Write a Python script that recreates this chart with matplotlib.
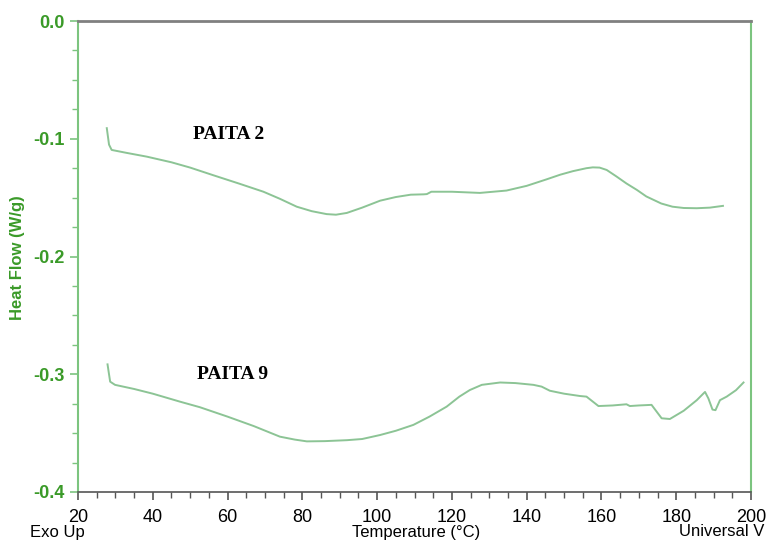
import matplotlib
matplotlib.use("Agg")
import matplotlib.pyplot as plt
from matplotlib.ticker import MultipleLocator

# Data (Temperature °C, Heat Flow W/g)
paita2_T = [27.7, 28.0, 28.3, 29.0, 33.0, 38.4, 45.0, 50.0, 56.2, 63.0, 69.6, 74.0, 78.5, 82.5,
            86.5, 89.0, 91.9, 96.0, 100.8, 105.0, 109.0, 112.5, 113.3, 114.5, 120.0, 127.5,
            134.6, 140.0, 145.3, 149.0, 152.4, 156.0, 157.7, 159.5, 161.4, 164.0, 166.7,
            169.5, 172.0, 176.0, 179.0, 182.0, 185.5, 189.0, 192.5]
paita2_V = [-0.091, -0.098, -0.105, -0.1095, -0.112, -0.1152, -0.120, -0.1245, -0.131, -0.138,
            -0.145, -0.151, -0.1577, -0.1615, -0.164, -0.1645, -0.163, -0.1585, -0.1526,
            -0.1495, -0.1475, -0.1472, -0.147, -0.145, -0.145, -0.146, -0.144, -0.140,
            -0.1345, -0.1305, -0.1275, -0.1250, -0.1243, -0.1245, -0.1265, -0.132, -0.138,
            -0.1435, -0.149, -0.155, -0.1577, -0.1588, -0.159, -0.1585, -0.157]

paita9_T = [27.9, 28.2, 28.6, 29.9, 35.0, 40.0, 47.3, 52.6, 60.0, 67.0, 74.0, 78.0, 81.2, 86.0,
            91.9, 96.0, 100.8, 105.0, 109.7, 114.0, 118.6, 122.0, 124.8, 128.0, 132.9, 137.0,
            141.8, 144.0, 146.2, 150.0, 154.3, 156.0, 159.2, 163.0, 166.7, 167.6, 170.0,
            173.4, 176.1, 178.3, 182.0, 185.5, 187.7, 188.6, 189.7, 190.5, 191.7, 193.5,
            196.0, 198.0]
paita9_V = [-0.2916, -0.298, -0.3063, -0.309, -0.3125, -0.3165, -0.3233, -0.328, -0.336,
            -0.344, -0.353, -0.3555, -0.357, -0.3568, -0.356, -0.355, -0.3516, -0.348,
            -0.343, -0.336, -0.3275, -0.319, -0.3134, -0.309, -0.307, -0.3075, -0.309,
            -0.3105, -0.314, -0.3165, -0.3185, -0.319, -0.327, -0.3265, -0.3255, -0.327,
            -0.3265, -0.326, -0.3374, -0.338, -0.331, -0.322, -0.315, -0.3205, -0.330,
            -0.3305, -0.322, -0.319, -0.3135, -0.307]

labels = ["PAITA 2", "PAITA 9"]
label_pos = [(50.8, -0.0968), (51.9, -0.3006)]

x_ticks = [20, 40, 60, 80, 100, 120, 140, 160, 180, 200]
y_ticks = [0.0, -0.1, -0.2, -0.3, -0.4]

curve_color = "#8cc495"
green = "#7cc47f"
tick_green = "#3a9a28"
narrow = ["Liberation Sans Narrow", "Liberation Sans"]

fig = plt.figure(figsize=(7.66, 5.44), dpi=100)
ax = fig.add_axes([78/766, 1-492/544, (751-78)/766, (492-21)/544])

ax.plot(paita2_T, paita2_V, color=curve_color, lw=1.4)
ax.plot(paita9_T, paita9_V, color=curve_color, lw=1.4)

for lab, (tx, ty) in zip(labels, label_pos):
    ax.text(tx, ty, lab, fontsize=14, fontweight="bold", family="Liberation Serif",
            ha="left", va="center", color="black")

ax.set_xlim(20, 200)
ax.set_ylim(-0.4, 0.0)
ax.set_xticks(x_ticks)
ax.set_yticks(y_ticks)
ax.set_yticklabels(["0.0", "-0.1", "-0.2", "-0.3", "-0.4"])
ax.xaxis.set_minor_locator(MultipleLocator(5))
ax.yaxis.set_minor_locator(MultipleLocator(0.025))

ax.spines["left"].set_color(green)
ax.spines["left"].set_linewidth(1.5)
ax.spines["right"].set_color(green)
ax.spines["right"].set_linewidth(1.5)
ax.spines["top"].set_color("#808080")
ax.spines["top"].set_linewidth(2)
ax.spines["bottom"].set_color("#555555")
ax.spines["bottom"].set_linewidth(1.2)

ax.tick_params(axis="y", which="both", colors=green, labelcolor=tick_green,
               direction="out", labelsize=13)
ax.tick_params(axis="y", which="major", length=6, width=1.2)
ax.tick_params(axis="y", which="minor", length=4, width=1.0)
ax.tick_params(axis="x", which="both", colors="#555555", labelcolor="black",
               direction="out", labelsize=13)
ax.tick_params(axis="x", which="major", length=6, width=1.2, pad=6)
ax.tick_params(axis="x", which="minor", length=4, width=1.0)
for t in ax.get_yticklabels():
    t.set_fontweight("bold")
    t.set_family(narrow)
for t in ax.get_xticklabels():
    t.set_family(narrow)

fig.text(18/766, 1-258/544, "Heat Flow (W/g)", rotation=90, color=tick_green,
         fontsize=12, fontweight="bold", family="Liberation Sans", ha="center", va="center")
fig.text(30/766, 1-532/544, "Exo Up", fontsize=12, ha="left", va="center", family=narrow)
fig.text(416/766, 1-532/544, "Temperature (°C)", fontsize=12, ha="center", va="center",
         family=narrow)
fig.text(764/766, 1-532/544, "Universal V", fontsize=12, ha="right",
         va="center", family=narrow)

fig.savefig("out.png", dpi=100)
